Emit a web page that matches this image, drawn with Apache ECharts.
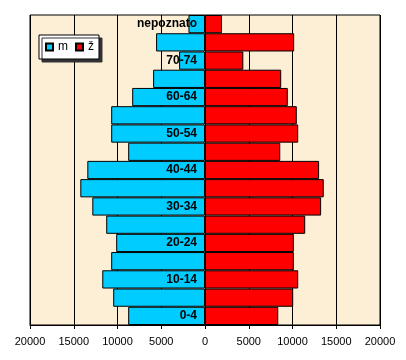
<!DOCTYPE html>
<html><head><meta charset="utf-8">
<script src="https://cdn.jsdelivr.net/npm/echarts@6/dist/echarts.min.js"></script>
<style>html,body{margin:0;padding:0;background:#fff}#c{width:406px;height:360px}</style>
</head><body><div id="c"></div>
<script>
var categories = ['0-4','5-9','10-14','15-19','20-24','25-29','30-34','35-39','40-44','45-49','50-54','55-59','60-64','65-69','70-74','75-79','nepoznato'];
var male = [8780,10490,11740,10720,10150,11290,12880,14250,13450,8780,10720,10720,8320,5930,2960,5590,1890];
var female = [8370,10080,10650,10150,10150,11450,13270,13570,13040,8600,10650,10490,9460,8710,4380,10190,1940];
var xTicks = [-20000,-15000,-10000,-5000,0,5000,10000,15000,20000];

var chart = echarts.init(document.getElementById('c'));
chart.setOption({
  animation: false,
  backgroundColor: '#ffffff',
  textStyle: {fontFamily: 'Liberation Sans, Arial, sans-serif'},
  grid: {left: 30, right: 26, top: 15, bottom: 35, containLabel: false, outerBoundsMode: 'none',
         show: true, backgroundColor: '#FDEED6', borderColor: '#000', borderWidth: 1},
  legend: {
    left: 39, top: 35, itemWidth: 7, itemHeight: 7, itemGap: 7, z: 20,
    backgroundColor: '#fff', borderColor: '#000', borderWidth: 1, padding: [6, 5, 6, 6],
    shadowColor: '#333', shadowOffsetX: 3, shadowOffsetY: 3, shadowBlur: 0,
    textStyle: {color: '#000', fontSize: 12},
    data: [{name: 'm', icon: 'rect'}, {name: 'ž', icon: 'rect'}]
  },
  xAxis: {
    type: 'value', min: -20000, max: 20000, interval: 5000,
    axisLine: {show: true, lineStyle: {color: '#000'}},
    axisTick: {show: true, length: 4, lineStyle: {color: '#000'}},
    axisLabel: {color: '#000', fontSize: 11, margin: 11, formatter: function(v){return String(Math.abs(v));}},
    splitLine: {show: true, lineStyle: {color: '#000', width: 1}}
  },
  yAxis: {
    type: 'category', data: categories, z: 10, position: 'left', offset: -175,
    axisLine: {show: false, onZero: false},
    axisTick: {show: false},
    axisLabel: {interval: 1, color: '#000', fontWeight: 'bold', fontSize: 12, margin: 8},
    splitLine: {show: false}
  },
  series: [
    {name: 'm', type: 'bar', stack: 't', barCategoryGap: 0,
     data: male.map(function(v){return -v;}),
     itemStyle: {color: '#00CCFF', borderColor: '#000', borderWidth: 1}},
    {name: 'ž', type: 'bar', stack: 't', barCategoryGap: 0,
     data: female,
     itemStyle: {color: '#FF0000', borderColor: '#000', borderWidth: 1}}
  ]
});
</script></body></html>
